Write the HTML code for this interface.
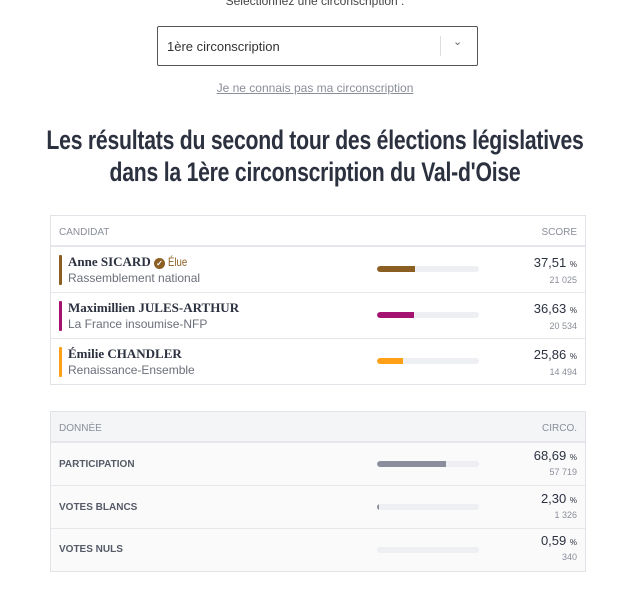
<!DOCTYPE html>
<html><head><meta charset="utf-8"><style>
*{box-sizing:border-box;margin:0;padding:0}
body{width:630px;height:600px;background:#fff;font-family:"Liberation Sans",sans-serif;color:#2c3140;position:relative;overflow:hidden}
.a{position:absolute}
.sel{left:157px;top:26px;width:321px;height:40px;border:1px solid #555;border-radius:2px}
.title{left:-185px;width:1000px;text-align:center;font-weight:bold;font-size:27px;line-height:32px;color:#2c3140;white-space:nowrap;transform:scaleX(0.785);transform-origin:center;letter-spacing:-0.3px}
.tbl{left:50px;width:536px;border:1px solid #e2e3e8}
.hdr{height:31px;border-bottom:2px solid #e6e7eb;font-size:10px;color:#8a8e99;position:relative}
.row{position:relative;border-bottom:1px solid #e6e7eb}
.row:last-child{border-bottom:none}
.cb{position:absolute;left:8px;width:3px;border-radius:1px}
.nm{position:absolute;left:17px;font-family:"Liberation Serif",serif;font-weight:bold;font-size:13px;color:#2c3140}
.pt{position:absolute;left:17px;font-size:12px;color:#6b6f7a}
.bar{position:absolute;left:326px;width:102px;height:6px;border-radius:3px;background:#eeeff3;overflow:hidden}
.bar i{display:block;height:6px;border-radius:3px 0 0 3px}
.pc{position:absolute;right:8px;font-size:13px;color:#2c3140}
.pc small{font-size:8px}
.vt{position:absolute;right:8px;font-size:9px;color:#8a8e99}
.lb{position:absolute;left:8px;font-size:10px;font-weight:bold;color:#555a66}
</style></head><body>
<div class="a" style="left:0;width:630px;top:-6px;text-align:center;font-size:12px;color:#444">Sélectionnez une circonscription :</div>
<div class="a sel"><span class="a" style="left:9px;top:12px;font-size:13px;color:#333">1ère circonscription</span>
<span class="a" style="left:282px;top:9px;width:1px;height:20px;background:#ddd"></span>
<span class="a" style="left:295px;top:8px;font-size:11px;color:#666">⌄</span></div>
<div class="a" style="left:0;width:630px;top:81px;text-align:center;font-size:12px;color:#8a8e99;text-decoration:underline">Je ne connais pas ma circonscription</div>
<div class="a title" style="top:124px">Les résultats du second tour des élections législatives</div>
<div class="a title" style="top:156px">dans la 1ère circonscription du Val-d'Oise</div>

<div class="a tbl" style="top:215px">
<div class="hdr"><span class="a" style="left:8px;top:11px">CANDIDAT</span><span class="a" style="right:8px;top:11px">SCORE</span></div>
<div class="row" style="height:46px"><div class="cb" style="top:8px;height:30px;background:#8b5e23"></div>
<div class="nm" style="top:7px">Anne SICARD <span style="display:inline-block;width:11px;height:11px;border-radius:50%;background:#8b5e23;color:#fff;font-size:8px;line-height:11px;text-align:center;vertical-align:0">✓</span> <span style="font-family:'Liberation Sans',sans-serif;font-weight:normal;color:#8b5e23;font-size:12px;display:inline-block;transform:scaleX(0.8);transform-origin:left">Élue</span></div>
<div class="pt" style="top:24px">Rassemblement national</div>
<div class="bar" style="top:19px"><i style="width:38px;background:#8b5e23"></i></div>
<div class="pc" style="top:8px">37,51 <small>%</small></div><div class="vt" style="top:28px">21 025</div></div>
<div class="row" style="height:46px"><div class="cb" style="top:8px;height:30px;background:#a3136f"></div>
<div class="nm" style="top:7px">Maximillien JULES-ARTHUR</div>
<div class="pt" style="top:24px">La France insoumise-NFP</div>
<div class="bar" style="top:19px"><i style="width:37px;background:#a3136f"></i></div>
<div class="pc" style="top:8px">36,63 <small>%</small></div><div class="vt" style="top:28px">20 534</div></div>
<div class="row" style="height:45px"><div class="cb" style="top:8px;height:30px;background:#ffa018"></div>
<div class="nm" style="top:7px">Émilie CHANDLER</div>
<div class="pt" style="top:24px">Renaissance-Ensemble</div>
<div class="bar" style="top:19px"><i style="width:26px;background:#ffa018"></i></div>
<div class="pc" style="top:8px">25,86 <small>%</small></div><div class="vt" style="top:28px">14 494</div></div>
</div>

<div class="a tbl" style="top:411px;background:#fafafb">
<div class="hdr" style="background:#f4f5f7"><span class="a" style="left:8px;top:11px">DONNÉE</span><span class="a" style="right:8px;top:11px">CIRCO.</span></div>
<div class="row" style="height:43px"><div class="lb" style="top:16px">PARTICIPATION</div>
<div class="bar" style="top:18px"><i style="width:69px;background:#8a8e9c"></i></div>
<div class="pc" style="top:5px">68,69 <small>%</small></div><div class="vt" style="top:24px">57 719</div></div>
<div class="row" style="height:43px"><div class="lb" style="top:16px">VOTES BLANCS</div>
<div class="bar" style="top:18px"><i style="width:2px;background:#8a8e9c"></i></div>
<div class="pc" style="top:5px">2,30 <small>%</small></div><div class="vt" style="top:24px">1 326</div></div>
<div class="row" style="height:42px"><div class="lb" style="top:15px">VOTES NULS</div>
<div class="bar" style="top:18px"><i style="width:0;background:#8a8e9c"></i></div>
<div class="pc" style="top:4px">0,59 <small>%</small></div><div class="vt" style="top:23px">340</div></div>
</div>
</body></html>
